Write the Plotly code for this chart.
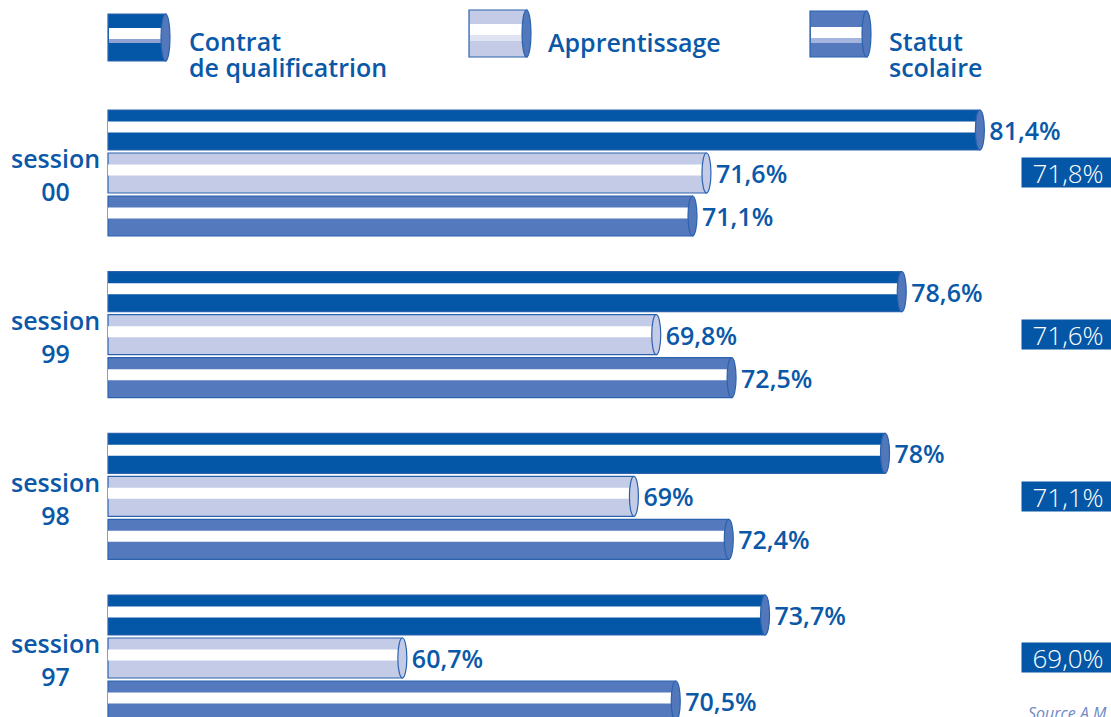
import plotly.graph_objects as go

# ---------------- data ----------------
SESSIONS = ["session 00", "session 99", "session 98", "session 97"]
SESSION_LABELS = ["session<br>00", "session<br>99", "session<br>98", "session<br>97"]
SERIES = ["Contrat de qualificatrion", "Apprentissage", "Statut scolaire"]
CONTRAT = [81.4, 78.6, 78.0, 73.7]
APPRENTISSAGE = [71.6, 69.8, 69.0, 60.7]
STATUT = [71.1, 72.5, 72.4, 70.5]
ENSEMBLE = [71.8, 71.6, 71.1, 69.0]

# ---------------- layout constants ----------------
W, H = 1111, 717
X_MIN = 50.15            # value at which bars start
PX_PER_UNIT = 27.9
BAR_START_PX = 108
DOMAIN_LEFT_PX = 100
Y_RANGE = [-0.365, 4.07]
Y_UNIT_PX = H / (Y_RANGE[1] - Y_RANGE[0])

DARK = "#0457A6"
LIGHT = "#C4CBE6"
MED = "#5479BC"
CAP = "#5277BB"
OUTLINE = "#2A62AE"
TEXT = "#0A58A8"
FONT = "Open Sans"

BAR_H_PX = 40
STRIPE_H_PX = 11
STRIPE_SHIFT_PX = 3
SERIES_OFFSETS_PX = [43, 0, -43]
SERIES_COLORS = [DARK, LIGHT, MED]
CAP_COLORS = [CAP, LIGHT, CAP]
VALUES = [CONTRAT, APPRENTISSAGE, STATUT]


def u(px):
    return px / Y_UNIT_PX


def fmt(v):
    return f"{v:g}".replace(".", ",") + "%"


fig = go.Figure()

# main bars
for name, vals, col, off in zip(SERIES, VALUES, SERIES_COLORS, SERIES_OFFSETS_PX):
    fig.add_trace(go.Bar(
        name=name, orientation="h", y=SESSIONS,
        x=[v - X_MIN for v in vals], base=X_MIN,
        width=u(BAR_H_PX), offset=u(off) - u(BAR_H_PX) / 2,
        marker=dict(color=col, line=dict(color=OUTLINE, width=1.2)),
        text=["\u00a0" + fmt(v) for v in vals], textposition="outside",
        constraintext="none", cliponaxis=False,
        textfont=dict(family=FONT, size=25, color=TEXT, weight=600),
        hoverinfo="skip", showlegend=False,
    ))

# white stripes
for name, vals, off in zip(SERIES, VALUES, SERIES_OFFSETS_PX):
    fig.add_trace(go.Bar(
        name=name + " stripe", orientation="h", y=SESSIONS,
        x=[v - X_MIN for v in vals], base=X_MIN,
        width=u(STRIPE_H_PX), offset=u(off + STRIPE_SHIFT_PX) - u(STRIPE_H_PX) / 2,
        marker=dict(color="white", line=dict(width=0)),
        hoverinfo="skip", showlegend=False,
    ))

shapes = []
# cylinder end caps
for vals, capc, off in zip(VALUES, CAP_COLORS, SERIES_OFFSETS_PX):
    for s, v in zip(SESSIONS, vals):
        shapes.append(dict(
            type="circle", xref="x", yref="y",
            xsizemode="pixel", xanchor=v, x0=-4.5, x1=4.5,
            ysizemode="pixel", yanchor=s,
            y0=off - BAR_H_PX / 2, y1=off + BAR_H_PX / 2,
            fillcolor=capc, line=dict(color=OUTLINE, width=1.2), layer="above",
        ))


def px(x):
    return x / W


def py(y):
    return 1 - y / H


# legend icons
LEGEND_ICONS = [
    # x0, x1, y0, y1, stripe y0, stripe y1, band y1, body, band colour, cap x0
    (108, 166, 14, 61, 28, 39, 43, DARK, "#8FA3D3", 161),
    (469, 527, 10, 57, 24, 35, 41, LIGHT, "#DFE3F2", 522),
    (810, 867, 11, 57, 27, 38, 43, MED, "#A5B5DD", 862),
]
for x0, x1, y0, y1, s0, s1, b1, body, band, cx0 in LEGEND_ICONS:
    shapes.append(dict(type="rect", xref="paper", yref="paper",
                       x0=px(x0), x1=px(x1), y0=py(y1), y1=py(y0),
                       fillcolor=body, line=dict(color=OUTLINE, width=1.2)))
    shapes.append(dict(type="rect", xref="paper", yref="paper",
                       x0=px(x0 + 1), x1=px(x1), y0=py(b1), y1=py(s1),
                       fillcolor=band, line=dict(width=0)))
    shapes.append(dict(type="rect", xref="paper", yref="paper",
                       x0=px(x0 + 1), x1=px(x1), y0=py(s1), y1=py(s0),
                       fillcolor="white", line=dict(width=0)))
    shapes.append(dict(type="circle", xref="paper", yref="paper",
                       x0=px(cx0), x1=px(cx0 + 9), y0=py(y1), y1=py(y0),
                       fillcolor=CAP, line=dict(color=OUTLINE, width=1.2)))

annotations = []
LEGEND_TEXT = [
    ("Contrat", 187, 41), ("de qualificatrion", 187, 67),
    ("Apprentissage", 546, 42),
    ("Statut", 887, 41), ("scolaire", 887, 67),
]
for t, x, y in LEGEND_TEXT:
    annotations.append(dict(text=t, xref="paper", yref="paper", x=px(x), y=py(y),
                            xanchor="left", yanchor="middle", showarrow=False,
                            font=dict(family=FONT, size=25, color=TEXT, weight=600)))

for s, lab, tot in zip(SESSIONS, SESSION_LABELS, ENSEMBLE):
    annotations.append(dict(text=lab, xref="paper", yref="y", x=px(55), y=s,
                            xanchor="center", yanchor="middle", align="center",
                            showarrow=False, yshift=-2,
                            font=dict(family=FONT, size=25, color=TEXT, weight=600)))
    annotations.append(dict(text=f"{tot:.1f}".replace(".", ",") + "%",
                            xref="paper", yref="y", x=px(1021), y=s,
                            xanchor="left", yanchor="middle", showarrow=False,
                            bgcolor=DARK, borderpad=0, width=92, height=29,
                            align="center",
                            font=dict(family=FONT, size=26, color="white", weight=300)))

annotations.append(dict(text="<i>Source A.M.</i>", xref="paper", yref="paper",
                        x=px(1026), y=py(713), xanchor="left", yanchor="middle",
                        showarrow=False,
                        font=dict(family=FONT, size=16, color="#7089C6")))

fig.update_layout(
    width=W, height=H, margin=dict(l=0, r=0, t=0, b=0),
    paper_bgcolor="white", plot_bgcolor="white",
    barmode="overlay", showlegend=False,
    xaxis=dict(domain=[DOMAIN_LEFT_PX / W, 1],
               range=[X_MIN - (BAR_START_PX - DOMAIN_LEFT_PX) / PX_PER_UNIT,
                      X_MIN + (W - BAR_START_PX) / PX_PER_UNIT],
               visible=False, fixedrange=True),
    yaxis=dict(type="category", categoryorder="array",
               categoryarray=list(reversed(SESSIONS)), range=Y_RANGE,
               visible=False, fixedrange=True),
    shapes=shapes, annotations=annotations,
)

fig.write_html(
    "out.html",
    config={"displayModeBar": False},
    post_script="document.body.style.margin='0';document.body.style.overflow='hidden';",
)
